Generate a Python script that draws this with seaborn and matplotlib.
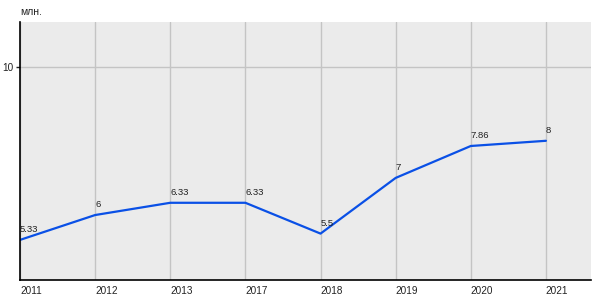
import matplotlib
matplotlib.use("Agg")
import matplotlib.pyplot as plt
import seaborn as sns
import pandas as pd

years = ["2011", "2012", "2013", "2017", "2018", "2019", "2020", "2021"]
values = [5.33, 6, 6.33, 6.33, 5.5, 7, 7.86, 8]
labels = ["5.33", "6", "6.33", "6.33", "5.5", "7", "7.86", "8"]
unit = "млн."

df = pd.DataFrame({"year": years, "value": values})

sns.set_style("white")
plt.rcParams['font.family'] = ['Liberation Sans', 'DejaVu Sans']

fig = plt.figure(figsize=(6, 3), dpi=100)
ax = fig.add_axes([20/600, 1 - 280/300, 571/600, 258/300])
ax.set_facecolor("#ebebeb")

sns.lineplot(data=df, x="year", y="value", ax=ax, color="#0a50e6", linewidth=1.6, sort=False)

for i, (v, lab) in enumerate(zip(values, labels)):
    ax.annotate(lab, (i, v), xytext=(0, 4), textcoords="offset points",
                ha="left", va="bottom", fontsize=6.8, color="#222222")

ax.set_xlim(0, 7.6)
ax.set_ylim(4.25, 11.2)
ax.set_yticks([10])
ax.set_yticklabels(["10"])
ax.set_xticks(range(len(years)))
ax.set_xticklabels(years, ha="left")
ax.tick_params(axis="x", length=0, labelsize=7.2, pad=4, colors="#222222")
ax.tick_params(axis="y", length=3, width=1, labelsize=7.2, pad=2, colors="#222222", left=True)
ax.grid(True, color="#c4c4c4", linewidth=1)
ax.set_axisbelow(True)
for s in ["top", "right"]:
    ax.spines[s].set_visible(False)
ax.spines["left"].set_color("black")
ax.spines["bottom"].set_color("black")
ax.spines["left"].set_linewidth(1.2)
ax.spines["bottom"].set_linewidth(1.2)
ax.set_xlabel("")
ax.set_ylabel("")
fig.text(20/600, 1 - 12/300, unit, fontsize=7.5, ha="left", va="center", color="#222222")

fig.savefig("out.png", dpi=100, facecolor="white")
